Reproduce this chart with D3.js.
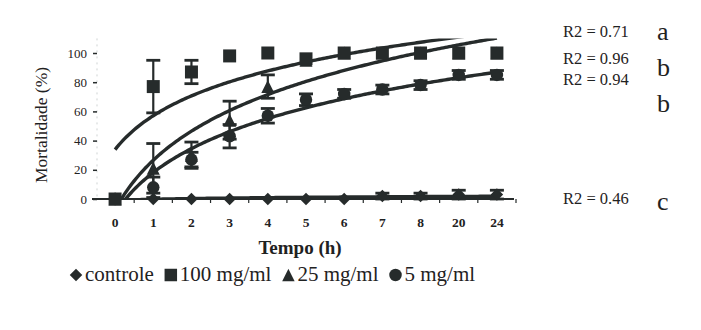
<!DOCTYPE html>
<html>
<head>
<meta charset="utf-8">
<script src="https://cdn.jsdelivr.net/npm/d3@7"></script>
<style>
  html, body { margin: 0; padding: 0; background: #fff; }
  svg { display: block; }
  text { font-family: "Liberation Serif", "Times New Roman", "DejaVu Serif", serif; }
</style>
</head>
<body>
<svg id="chart" width="701" height="330"></svg>
<script>
// ---- data ----
const categories = ["0", "1", "2", "3", "4", "5", "6", "7", "8", "20", "24"];
const yTicks = [0, 20, 40, 60, 80, 100];

const controle    = [0, 0, 0, 0, 0, 0, 0, 2, 2, 3, 3];
const controleErr = [0, 0, 0, 0, 0, 0, 0, 2, 2, 3, 3];
const m100        = [0, 77, 87, 98, 100, 96, 100, 100, 100, 100, 100];
const m100Err     = [0, 18, 8, 0, 0, 0, 0, 0, 0, 0, 0];
const m25         = [0, 21, 30, 54, 77, 95, 100, 100, 100, 100, 100];
const m25Err      = [0, 17, 9, 13, 8, 0, 0, 0, 0, 0, 0];
const m5          = [0, 8, 27, 43, 57, 68, 72, 75, 78, 85, 85];
const m5Err       = [0, 7, 5, 8, 5, 4, 3, 3, 3, 3, 3];

const seriesNames = ["controle", "100 mg/ml", "25 mg/ml", "5 mg/ml"];
const r2Labels = ["R2 = 0.71", "R2 = 0.96", "R2 = 0.94", "R2 = 0.46"];
const groupLetters = ["a", "b", "b", "c"];

// ---- setup ----
const ink = "#262b2b";
const txt = "#1f2222";
const svg = d3.select("#chart");
const x = d3.scalePoint().domain(categories).range([96, 516]).padding(0.5);
const y = d3.scaleLinear().domain([0, 110]).range([199, 38.4]);

// box-based marker shapes (each fits in an s x s box, like spreadsheet markers)
const boxSymbols = {
  diamond: (p, s) => { const h = s / 2; p.moveTo(0, -h); p.lineTo(h, 0); p.lineTo(0, h); p.lineTo(-h, 0); p.closePath(); },
  square: (p, s) => { const h = s / 2; p.rect(-h, -h, s, s); },
  triangle: (p, s) => { const h = s / 2; p.moveTo(0, -h); p.lineTo(h, h); p.lineTo(-h, h); p.closePath(); },
  circle: (p, s) => { p.moveTo(s / 2, 0); p.arc(0, 0, s / 2, 0, 2 * Math.PI); }
};
function marker(kind, s) { const p = d3.path(); boxSymbols[kind](p, s); return p.toString(); }

const series = [
  { name: seriesNames[0], vals: controle, err: controleErr, sym: "diamond", size: 12.5, z: 0 },
  { name: seriesNames[1], vals: m100, err: m100Err, sym: "square", size: 13, z: 3 },
  { name: seriesNames[2], vals: m25, err: m25Err, sym: "triangle", size: 13, z: 1 },
  { name: seriesNames[3], vals: m5, err: m5Err, sym: "circle", size: 12.5, z: 2 }
];

// logarithmic least-squares trend (x = 1..n, like a spreadsheet trendline)
function logFit(vals) {
  const lx = vals.map((v, i) => Math.log(i + 1));
  const mx = d3.mean(lx), my = d3.mean(vals);
  let sxy = 0, sxx = 0;
  lx.forEach((l, i) => { sxy += (l - mx) * (vals[i] - my); sxx += (l - mx) * (l - mx); });
  const a = sxy / sxx;
  return { a, b: my - a * mx };
}

svg.append("defs").append("clipPath").attr("id", "plotclip")
  .append("rect").attr("x", 96).attr("y", y(110)).attr("width", 420).attr("height", y(0) - y(110) + 1);

// y axis
const yAxisG = svg.append("g").attr("transform", "translate(97,0)");
yAxisG.append("line").attr("x1", 0).attr("x2", 0).attr("y1", y(110)).attr("y2", y(0))
  .attr("stroke", "#cfd3d3").attr("stroke-width", 1).attr("stroke-dasharray", "2,4");
yAxisG.call(d3.axisLeft(y).tickValues(yTicks).tickSize(4).tickPadding(6))
  .call(g => g.select(".domain").remove())
  .call(g => g.selectAll(".tick line").attr("stroke", ink).attr("stroke-width", 1.5))
  .call(g => g.selectAll(".tick text").attr("fill", txt).attr("font-family", null)
    .attr("font-size", 13));

// x axis
const step = x.step();
const xAxisG = svg.append("g").attr("transform", `translate(0,${y(0)})`);
xAxisG.append("line").attr("x1", 92).attr("x2", 514).attr("stroke", ink).attr("stroke-width", 2);
const boundaries = d3.range(categories.length + 1).map(i => x(categories[0]) - step / 2 + i * step);
xAxisG.selectAll("line.bt").data(boundaries.slice(1)).join("line").attr("class", "bt")
  .attr("x1", d => d).attr("x2", d => d).attr("y1", 0).attr("y2", 4)
  .attr("stroke", ink).attr("stroke-width", 1.2);
xAxisG.selectAll("text").data(categories).join("text")
  .attr("x", d => x(d)).attr("y", 28).attr("text-anchor", "middle")
  .attr("font-weight", "bold").attr("font-size", 13.5)
  .attr("fill", txt).text(d => d);

// trend lines
const plot = svg.append("g").attr("clip-path", "url(#plotclip)");
series.forEach(s => {
  const f = logFit(s.vals);
  const pts = d3.range(0, categories.length - 1 + 0.001, 0.05).map(t => [t, f.a * Math.log(t + 1) + f.b]);
  const line = d3.line().x(d => x(categories[0]) + d[0] * step).y(d => y(d[1]));
  plot.append("path").attr("d", line(pts)).attr("fill", "none")
    .attr("stroke", ink).attr("stroke-width", 3.4);
});

// error bars + markers
series.slice().sort((a, b) => a.z - b.z).forEach(s => {
  const g = svg.append("g");
  s.vals.forEach((v, i) => {
    const e = s.err[i];
    if (e > 0) {
      const cx = x(categories[i]);
      g.append("line").attr("x1", cx).attr("x2", cx).attr("y1", y(v - e)).attr("y2", y(v + e))
        .attr("stroke", ink).attr("stroke-width", 2.2);
      [v - e, v + e].forEach(c => g.append("line").attr("x1", cx - 7).attr("x2", cx + 7)
        .attr("y1", y(c)).attr("y2", y(c)).attr("stroke", ink).attr("stroke-width", 2.8));
    }
  });
  g.selectAll("path").data(s.vals).join("path")
    .attr("transform", (d, i) => `translate(${x(categories[i])},${y(d)})`)
    .attr("d", marker(s.sym, s.size)).attr("fill", ink);
});

// axis titles
svg.append("text").attr("transform", `translate(47,${(y(0) + y(100)) / 2 - 1}) rotate(-90)`)
  .attr("text-anchor", "middle").attr("font-size", 17.5)
  .attr("fill", txt).text("Mortalidade (%)");
svg.append("text").attr("x", 300).attr("y", 254).attr("text-anchor", "middle")
  .attr("font-weight", "bold").attr("font-size", 19)
  .attr("fill", txt).text("Tempo (h)");

// legend
const legend = svg.append("g").attr("transform", "translate(0,281)");
let lx = 76;
series.forEach((s, i) => {
  legend.append("path").attr("transform", `translate(${lx},-6)`)
    .attr("d", marker(s.sym, 12.5)).attr("fill", ink);
  const t = legend.append("text").attr("x", lx + 9).attr("y", 0)
    .attr("font-size", 21).attr("fill", txt).text(s.name);
  lx += 9 + t.node().getComputedTextLength() + 17;
});

// R2 labels and group letters
const r2Y = [37, 64, 85, 204];
const letterY = [40, 76, 112, 210];
r2Labels.forEach((t, i) => {
  svg.append("text").attr("x", 563).attr("y", r2Y[i])
    .attr("font-size", 16.5).attr("fill", txt).text(t);
  svg.append("text").attr("x", 657).attr("y", letterY[i])
    .attr("font-size", 26).attr("fill", txt).text(groupLetters[i]);
});
</script>
</body>
</html>
